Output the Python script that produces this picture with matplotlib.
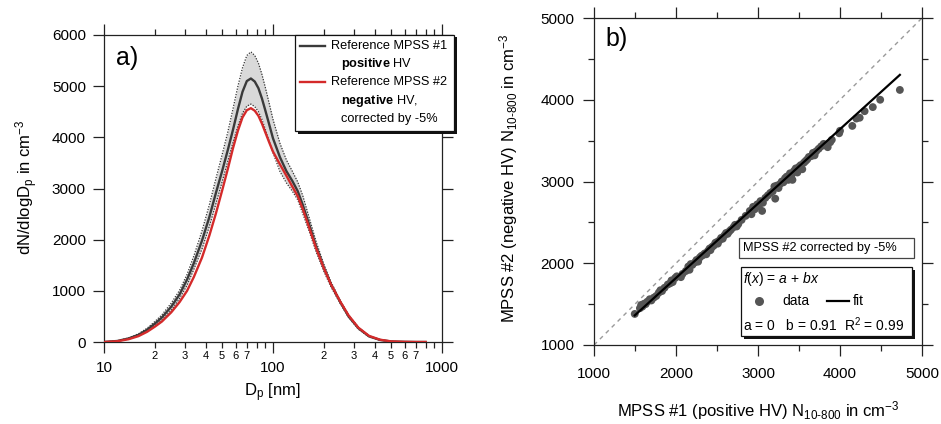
import numpy as np
import matplotlib
matplotlib.use("Agg")
import matplotlib.pyplot as plt
from matplotlib.ticker import FixedLocator, FuncFormatter, MultipleLocator, NullLocator
from matplotlib.patches import Rectangle
from matplotlib.lines import Line2D

plt.rcParams['font.family'] = ['Liberation Sans', 'DejaVu Sans']
plt.rcParams['mathtext.fontset'] = 'custom'
plt.rcParams['mathtext.rm'] = 'Liberation Sans'
plt.rcParams['mathtext.it'] = 'Liberation Sans:italic'
plt.rcParams['mathtext.bf'] = 'Liberation Sans:bold'

# ---------------- data: panel a ----------------
dp_nm = [10, 12, 14, 16, 18, 20, 22, 25, 28, 31, 34, 38, 42, 46, 50, 54, 58, 62, 66, 70,
         74, 78, 82, 86, 90, 95, 100, 110, 120, 130, 140, 150, 165, 180, 200, 220, 250, 280,
         320, 370, 430, 500, 600, 700, 800]
mpss1_mean = [0, 20, 70, 140, 240, 360, 480, 690, 930, 1220, 1540, 1980, 2440, 2920, 3340,
              3750, 4150, 4550, 4890, 5100, 5150, 5090, 4960, 4760, 4530, 4250, 3980, 3610,
              3340, 3150, 2950, 2680, 2260, 1860, 1450, 1130, 780, 500, 270, 110, 40, 10, 3,
              0, 0]
mpss1_upper = [0, 22, 80, 160, 270, 400, 530, 760, 1010, 1320, 1680, 2170, 2680, 3200, 3660,
               4100, 4560, 5000, 5360, 5600, 5670, 5600, 5450, 5230, 4980, 4660, 4350, 3880,
               3560, 3340, 3130, 2860, 2390, 1960, 1520, 1180, 810, 530, 290, 120, 45, 12, 3,
               0, 0]
mpss1_lower = [0, 18, 60, 125, 215, 320, 430, 620, 850, 1110, 1420, 1820, 2260, 2710, 3130,
               3530, 3900, 4220, 4470, 4610, 4650, 4600, 4500, 4350, 4160, 3920, 3700, 3330,
               3110, 2950, 2780, 2510, 2130, 1760, 1380, 1080, 750, 480, 250, 100, 35, 8, 2,
               0, 0]
mpss2_corr = [0, 15, 55, 115, 200, 300, 400, 580, 780, 1000, 1270, 1650, 2080, 2520, 2960,
              3380, 3790, 4130, 4390, 4530, 4570, 4520, 4420, 4270, 4100, 3900, 3720, 3470,
              3250, 3040, 2850, 2600, 2200, 1830, 1440, 1130, 790, 520, 280, 120, 45, 12, 3,
              0, 0]

# ---------------- data: panel b ----------------
n_mpss1 = [1497, 1560, 1575, 1590, 1610, 1630, 1650, 1680, 1700, 1730, 1760, 1790, 1810, 1830,
           1860, 1900, 1930, 1945, 1960, 1990, 2010, 2060, 2080, 2120, 2150, 2165, 2180, 2200,
           2230, 2250, 2270, 2290, 2310, 2330, 2350, 2370, 2390, 2410, 2420, 2440, 2460, 2480,
           2500, 2510, 2530, 2550, 2570, 2590, 2610, 2630, 2650, 2670, 2700, 2720, 2740, 2760,
           2800, 2850, 2900, 2920, 2940, 2960, 2990, 3010, 3030, 3050, 3060, 3090, 3120, 3150,
           3180, 3200, 3210, 3230, 3250, 3270, 3290, 3310, 3330, 3350, 3370, 3390, 3410, 3420,
           3440, 3460, 3480, 3500, 3520, 3540, 3560, 3580, 3600, 3620, 3650, 3670, 3690, 3710,
           3740, 3770, 3800, 3830, 3850, 3880, 3900, 3990, 4000, 4150, 4200, 4240, 4300, 4400,
           4490, 4730]
n_mpss2 = [1380, 1450, 1490, 1470, 1505, 1500, 1530, 1560, 1545, 1580, 1600, 1640, 1670, 1660,
           1700, 1740, 1755, 1790, 1770, 1820, 1840, 1830, 1870, 1905, 1960, 1920, 1990, 1980,
           2010, 2040, 2020, 2070, 2090, 2100, 2120, 2110, 2150, 2180, 2160, 2200, 2215, 2250,
           2260, 2240, 2280, 2310, 2300, 2340, 2370, 2360, 2390, 2410, 2440, 2470, 2450, 2480,
           2530, 2580, 2640, 2600, 2690, 2660, 2720, 2700, 2760, 2640, 2740, 2800, 2830, 2860,
           2880, 2940, 2790, 2950, 2920, 2970, 3000, 2990, 3040, 3060, 3020, 3100, 3080, 3020,
           3130, 3160, 3110, 3180, 3200, 3150, 3230, 3250, 3270, 3300, 3310, 3350, 3320, 3370,
           3400, 3430, 3460, 3440, 3420, 3480, 3510, 3590, 3620, 3680, 3770, 3780, 3860, 3910,
           4000, 4120]
fit_a = 0.0
fit_b = 0.91
r_squared = 0.99

W, H = 941, 424
def fx(px): return px / W
def fy(py): return 1 - py / H

fig = plt.figure(figsize=(W / 100, H / 100), dpi=100)
axA = fig.add_axes([fx(104), fy(342), (442 - 104) / W, (342 - 35) / H])
axB = fig.add_axes([fx(594), fy(345), (922 - 594) / W, (345 - 18) / H])

spine_c = '#222222'
for ax in (axA, axB):
    for s in ax.spines.values():
        s.set_linewidth(0.9)
        s.set_color(spine_c)
    ax.tick_params(which='both', direction='out', top=True, right=True, color=spine_c,
                   width=0.9, labelsize=11)
    ax.tick_params(which='major', length=8)
    ax.tick_params(which='minor', length=4.3)

# ---------------- panel a ----------------
axA.fill_between(dp_nm, mpss1_lower, mpss1_upper, color='#d9d9d9', lw=0, zorder=1)
axA.plot(dp_nm, mpss1_upper, color='#333333', lw=0.9, ls=(0, (1, 1.2)), zorder=2)
axA.plot(dp_nm, mpss1_lower, color='#333333', lw=0.9, ls=(0, (1, 1.2)), zorder=2)
axA.plot(dp_nm, mpss1_mean, color='#3a3a3a', lw=1.7, zorder=3)
axA.plot(dp_nm, mpss2_corr, color='#d42a2a', lw=1.7, zorder=4)
axA.set_xscale('log')
axA.set_xlim(10, 1000)
axA.set_ylim(0, 6000)
axA.xaxis.set_major_locator(FixedLocator([10, 100, 1000]))
axA.xaxis.set_major_formatter(FuncFormatter(lambda v, p: f"{v:.0f}"))
minors = [m * d for d in (10, 100) for m in range(2, 10)]
axA.xaxis.set_minor_locator(FixedLocator(minors))
def minor_fmt(v, p):
    m = int(round(v / (10 ** np.floor(np.log10(v) + 1e-9))))
    return str(m) if m <= 7 else ''
axA.xaxis.set_minor_formatter(FuncFormatter(minor_fmt))
axA.tick_params(axis='x', which='minor', labelsize=8, pad=2)
axA.tick_params(axis='x', which='major', pad=6)
axA.tick_params(axis='y', which='major', pad=5)
axA.yaxis.set_major_locator(MultipleLocator(1000))
axA.yaxis.set_minor_locator(NullLocator())
axA.set_xlabel('D$_\\mathrm{p}$ [nm]', fontsize=12)
axA.set_ylabel('dN/dlogD$_\\mathrm{p}$ in cm$^{-3}$', fontsize=12)
axA.xaxis.label.set(va='center', ha='center')
axA.yaxis.label.set(va='center', ha='center')
axA.xaxis.set_label_coords(0.497, -0.166)
axA.yaxis.set_label_coords(-0.228, 0.505)
axA.text(0.035, 0.925, 'a)', transform=axA.transAxes, fontsize=18, va='center', ha='left')

# legend box for panel a (figure pixel coords)
def shadow_box(x0, y0, x1, y1, lw=0.9, shadow=2.5, ec='#111111'):
    fig.patches.append(Rectangle((fx(x0 + shadow), fy(y1 + shadow)), fx(x1 - x0), (y1 - y0) / H,
                                 transform=fig.transFigure, facecolor='#111111', edgecolor='none',
                                 zorder=5))
    fig.patches.append(Rectangle((fx(x0), fy(y1)), fx(x1 - x0), (y1 - y0) / H,
                                 transform=fig.transFigure, facecolor='white', edgecolor=ec,
                                 lw=lw, zorder=6))

shadow_box(295, 35, 454, 131)
for yy, col in ((46, '#3a3a3a'), (82, '#d42a2a')):
    fig.lines.append(Line2D([fx(300), fx(325)], [fy(yy), fy(yy)], transform=fig.transFigure,
                            color=col, lw=1.7, zorder=7))
leg_fs = 9.2
fig.text(fx(331), fy(46), 'Reference MPSS #1', fontsize=leg_fs, va='center', zorder=7)
fig.text(fx(341), fy(64), '$\\mathbf{positive}$ HV', fontsize=leg_fs, va='center', zorder=7)
fig.text(fx(331), fy(82), 'Reference MPSS #2', fontsize=leg_fs, va='center', zorder=7)
fig.text(fx(341), fy(101), '$\\mathbf{negative}$ HV,', fontsize=leg_fs, va='center', zorder=7)
fig.text(fx(341), fy(119), 'corrected by -5%', fontsize=leg_fs, va='center', zorder=7)

# ---------------- panel b ----------------
axB.plot([1000, 5000], [1000, 5000], color='#9a9a9a', lw=1.0, ls=(0, (3, 3)), zorder=1)
axB.scatter(n_mpss1, n_mpss2, s=32, color='#555555', edgecolors='none', zorder=2)
xfit = np.array([min(n_mpss1), max(n_mpss1)], dtype=float)
axB.plot(xfit, fit_a + fit_b * xfit, color='black', lw=1.6, zorder=3)
axB.set_xlim(1000, 5000)
axB.set_ylim(1000, 5000)
for a in (axB.xaxis, axB.yaxis):
    a.set_major_locator(MultipleLocator(1000))
    a.set_minor_locator(MultipleLocator(500))
axB.tick_params(axis='x', which='major', pad=8)
axB.tick_params(axis='y', which='major', pad=6)
axB.set_xlabel('MPSS #1 (positive HV) N$_\\mathrm{10\\text{-}800}$ in cm$^{-3}$', fontsize=12)
axB.set_ylabel('MPSS #2 (negative HV) N$_\\mathrm{10\\text{-}800}$ in cm$^{-3}$', fontsize=12)
axB.xaxis.label.set(va='center', ha='center')
axB.yaxis.label.set(va='center', ha='center')
axB.xaxis.set_label_coords(0.5, -0.199)
axB.yaxis.set_label_coords(-0.259, 0.51)
axB.text(0.035, 0.935, 'b)', transform=axB.transAxes, fontsize=18, va='center', ha='left')

# annotation boxes (figure pixel coords)
fig.patches.append(Rectangle((fx(739), fy(258)), fx(914 - 739), 20 / H, transform=fig.transFigure,
                             facecolor='white', edgecolor='#444444', lw=0.9, zorder=6))
fig.text(fx(743), fy(248), 'MPSS #2 corrected by -5%', fontsize=9.2, va='center', zorder=7)

shadow_box(741, 267, 912, 336, shadow=2.5)
box_fs = 10
fig.text(fx(743), fy(279), '$f(x)$ = $a$ + $bx$', fontsize=box_fs, va='center', zorder=7)
fig.lines.append(Line2D([fx(759)], [fy(301)], transform=fig.transFigure, marker='o', ms=6.5,
                        color='#555555', mec='none', lw=0, zorder=7))
fig.text(fx(782), fy(301), 'data', fontsize=box_fs, va='center', zorder=7)
fig.lines.append(Line2D([fx(827), fx(849)], [fy(301), fy(301)], transform=fig.transFigure,
                        color='black', lw=1.6, zorder=7))
fig.text(fx(853), fy(301), 'fit', fontsize=box_fs, va='center', zorder=7)
fig.text(fx(743), fy(325), f'a = {fit_a:.0f}   b = {fit_b:.2f}  R$^2$ = {r_squared:.2f}',
         fontsize=box_fs, va='center', zorder=7)

fig.savefig('out.png', dpi=100)
